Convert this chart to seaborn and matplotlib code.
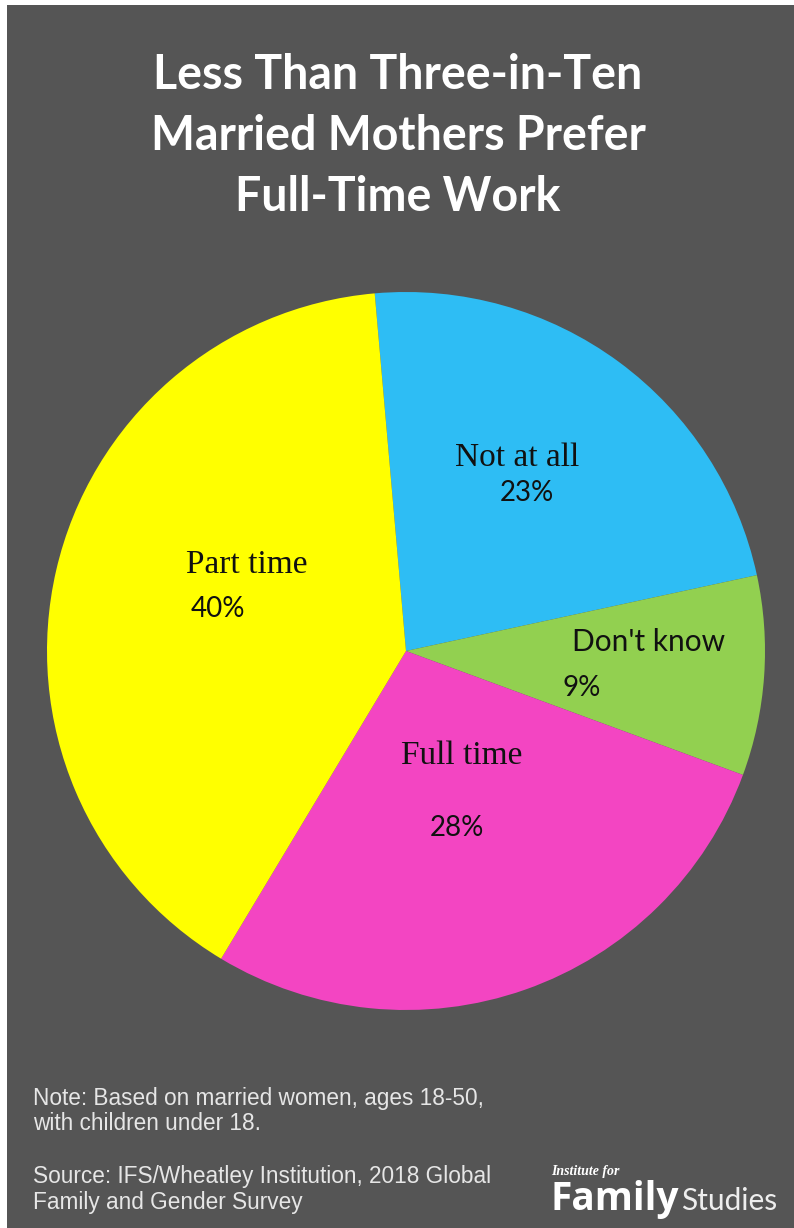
import matplotlib
matplotlib.use("Agg")
import matplotlib.pyplot as plt
import seaborn as sns

sns.set_theme(style="white")
plt.rcParams['font.family'] = ['Lato', 'DejaVu Sans']

# Data
categories = ["Not at all", "Don't know", "Full time", "Part time"]
values = [23, 9, 28, 40]
pct_labels = ["23%", "9%", "28%", "40%"]
colors = ["#2EBDF4", "#92D050", "#F345C2", "#FFFF00"]

title_lines = ["Less Than Three-in-Ten", "Married Mothers Prefer", "Full-Time Work"]
note = ["Note: Based on married women, ages 18-50,", "with children under 18."]
source = ["Source: IFS/Wheatley Institution, 2018 Global", "Family and Gender Survey"]

W, H = 794, 1228
fig = plt.figure(figsize=(W / 100, H / 100), dpi=100)
fig.patch.set_facecolor("white")

# gray panel with white border at left/top
bg = fig.add_axes([7 / W, 0, 1 - 7 / W, 1 - 5 / H])
bg.set_facecolor("#555555")
bg.set_xticks([]); bg.set_yticks([])
for s in bg.spines.values():
    s.set_visible(False)

# pie axes
cx, cy, r = 406, 651, 359
ax = fig.add_axes([(cx - r) / W, (H - cy - r) / H, 2 * r / W, 2 * r / H])
ax.set_facecolor("none")
ax.pie(values, colors=colors, startangle=95, counterclock=False, radius=1,
       wedgeprops=dict(linewidth=0))
ax.set_xlim(-1, 1); ax.set_ylim(-1, 1)
ax.set_aspect("equal")
ax.axis("off")

def px(x, y):
    return ((x - cx) / r, (cy - y) / r)

serif = ['Liberation Serif', 'DejaVu Serif']
cat_pos = {"Not at all": (517, 458), "Part time": (247, 565),
           "Don't know": (649, 642), "Full time": (462, 756)}
pct_pos = {"23%": (527, 493), "40%": (218, 609), "9%": (582, 688), "28%": (457, 828)}

for cat in categories:
    x, y = px(*cat_pos[cat])
    if cat == "Don't know":
        ax.text(x, y, cat, ha="center", va="center", fontsize=21.5, color="#111111")
    else:
        ax.text(x, y, cat, ha="center", va="center", fontsize=24, family=serif, color="#111111")
for p in pct_labels:
    x, y = px(*pct_pos[p])
    ax.text(x, y, p, ha="center", va="center", fontsize=20, color="#111111")

# title
for i, line in enumerate(title_lines):
    fig.text(398 / W, 1 - (75 + 61 * i) / H, line, ha="center", va="center",
             fontsize=33.5, fontweight="bold", color="white")

# notes
sans = ['Liberation Sans', 'DejaVu Sans']
for i, line in enumerate(note):
    fig.text(33 / W, 1 - (1098 + 26 * i) / H, line, ha="left", va="center",
             fontsize=16.3, family=sans, color="#E6E6E6")
for i, line in enumerate(source):
    fig.text(33 / W, 1 - (1177 + 26 * i) / H, line, ha="left", va="center",
             fontsize=16.3, family=sans, color="#E6E6E6")

# logo
fig.text(551 / W, 1 - 1172 / H, "Institute for", ha="left", va="center", fontsize=10,
         family=serif, style="italic", fontweight="bold", color="white")
fig.text(679 / W, 1 - 1210 / H, "Family", ha="right", va="baseline", fontsize=28,
         family=['Open Sans', 'DejaVu Sans'], fontweight="bold", color="white")
fig.text(681 / W, 1 - 1210 / H, "Studies", ha="left", va="baseline", fontsize=21.5,
         family=['Lato', 'DejaVu Sans'], color="#EEEEEE")

fig.savefig("out.png", dpi=100, facecolor=fig.get_facecolor())
